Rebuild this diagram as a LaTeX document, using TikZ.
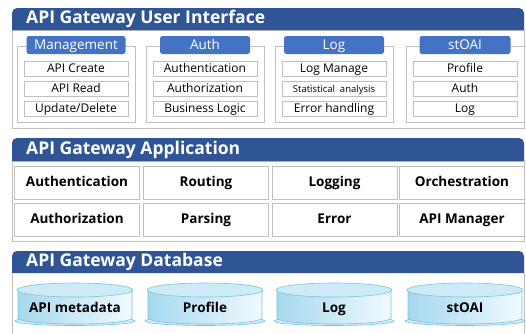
\documentclass[tikz,border=0pt]{standalone}
\usepackage{fontspec}
\setmainfont{Open Sans}
\usetikzlibrary{positioning,calc}
\definecolor{headblue}{HTML}{2F5597}
\definecolor{btnblue}{HTML}{4472C4}
\definecolor{framegray}{HTML}{BFBFBF}
\definecolor{dbedge}{HTML}{7CC2DE}
\definecolor{dbdark}{HTML}{A6D8EE}
\definecolor{dblight}{HTML}{F0FAFD}
\definecolor{dbtop}{HTML}{CDEBF7}

\tikzset{
  headtext/.style={text=white, anchor=west, inner sep=0pt,
    font=\fontsize{17.5}{19}\selectfont\bfseries},
  frameline/.style={draw=framegray, line width=0.8pt},
  fixtext/.style={text height=1.9ex, text depth=.4ex},
  titlebtn/.style={fill=btnblue, rounded corners=2.5pt, text=white, fixtext,
    minimum height=18pt, inner sep=0pt, font=\fontsize{13.5}{14}\selectfont},
  itembox/.style={frameline, fixtext, minimum width=104pt, minimum height=15pt,
    inner sep=0pt, font=\fontsize{12}{13}\selectfont},
  cellbox/.style={frameline, fixtext, minimum width=125pt, minimum height=33pt,
    inner sep=0pt, font=\fontsize{13.5}{14}\selectfont\bfseries},
  dbtext/.style={inner sep=0pt, fixtext, font=\fontsize{13.5}{14}\selectfont\bfseries}
}

\begin{document}
\begin{tikzpicture}[x=1pt,y=1pt]
  \useasboundingbox (0,0) rectangle (526,-333);

  % user interface layer
  \draw[frameline] (12,-30) rectangle (524,-128);
  \fill[headblue, rounded corners=5pt] (12,-30) -- (12,-8) -- (524,-8) [sharp corners] -- (524,-30) -- cycle;
  \node[headtext] (uihead) at (26,-19) {API Gateway User Interface};
  \foreach \gx/\bw/\gname/\gt/\ia/\ib/\ic in {
      76/99/mgmt/Management/API Create/API Read/{Update/Delete},
      205/90/auth/Auth/Authentication/Authorization/Business Logic,
      334/100/log/Log/Log Manage/{\fontsize{9.5}{10}\selectfont Statistical\ \ analysis}/Error handling,
      465/91/stoai/stOAI/Profile/Auth/Log} {
    \draw[frameline] ({\gx-59},-46) rectangle ({\gx+59},-122);
    \node[titlebtn, minimum width=\bw] (\gname) at (\gx,-45) {\gt};
    \node[itembox] (\gname-a) at (\gx,-68.5) {\ia};
    \node[itembox] (\gname-b) at (\gx,-88.5) {\ib};
    \node[itembox] (\gname-c) at (\gx,-108.5) {\ic};
  }

  % application layer
  \draw[frameline] (12,-161) rectangle (524,-241);
  \fill[headblue, rounded corners=5pt] (12,-161) -- (12,-138) -- (524,-138) [sharp corners] -- (524,-161) -- cycle;
  \node[headtext] (apphead) at (26,-149.5) {API Gateway Application};
  \foreach \cx/\ta/\tb [count=\i] in {77/Authentication/Authorization,
      206/Routing/Parsing, 334.5/Logging/Error, 462/Orchestration/API Manager} {
    \node[cellbox] (app-\i-a) at (\cx,-182.5) {\ta};
    \node[cellbox] (app-\i-b) at (\cx,-219.5) {\tb};
  }

  % database layer
  \draw[frameline] (12,-340) -- (12,-273) (524,-273) -- (524,-340);
  \fill[headblue, rounded corners=5pt] (12,-273) -- (12,-251) -- (524,-251) [sharp corners] -- (524,-273) -- cycle;
  \node[headtext] (dbhead) at (26,-262) {API Gateway Database};
  \foreach \cx/\ct/\cname in {75/API metadata/dbmeta, 205/Profile/dbprofile,
      334/Log/dblog, 465/stOAI/dbstoai} {
    \draw[draw=dbedge, fill=dbtop, line width=0.6pt] (\cx,-321) ellipse (60 and 4.5);
    \draw[draw=dbedge, line width=0.6pt, left color=dbdark, right color=dblight]
      ({\cx-57},-290) -- ({\cx-57},-318)
      arc[start angle=180, end angle=360, x radius=57, y radius=6] -- ({\cx+57},-290) -- cycle;
    \draw[draw=dbedge, fill=dbtop, line width=0.6pt] (\cx,-290) ellipse (58 and 7);
    \node[dbtext] (\cname) at (\cx,-308) {\ct};
  }
\end{tikzpicture}
\end{document}
